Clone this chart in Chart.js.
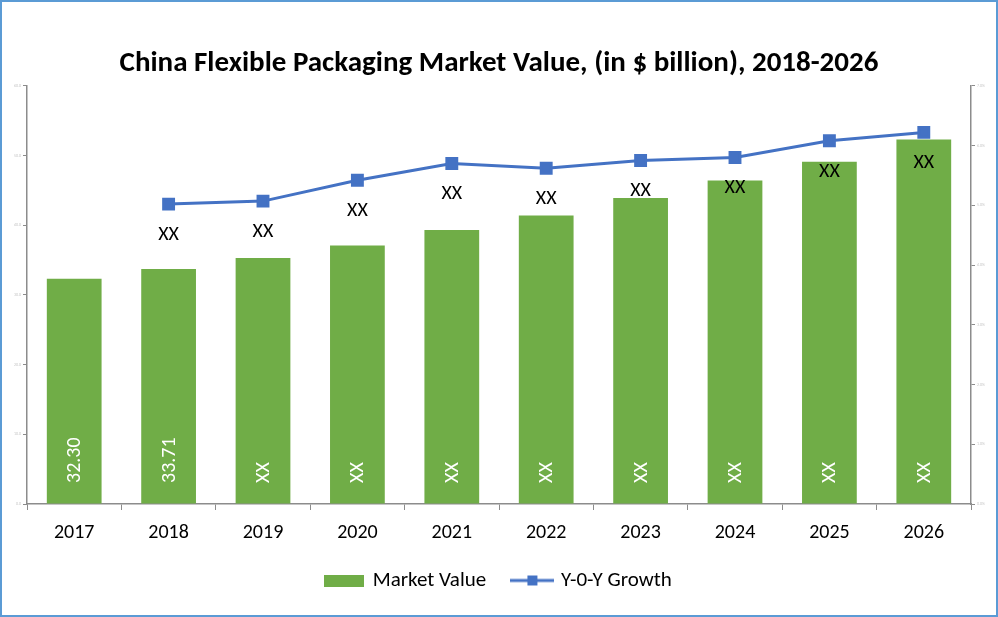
<!DOCTYPE html>
<html><head><meta charset="utf-8">
<script src="https://cdn.jsdelivr.net/npm/chart.js@4.4.0/dist/chart.umd.min.js"></script>
<style>html,body{margin:0;padding:0;background:#fff;}#wrap{width:998px;height:617px;}</style>
</head><body><div id="wrap"><canvas id="c" width="998" height="617"></canvas></div>
<script>
const categories = ['2017','2018','2019','2020','2021','2022','2023','2024','2025','2026'];
const marketValue = [32.30, 33.71, 35.3, 37.1, 39.3, 41.4, 43.9, 46.4, 49.1, 52.3];
const yoyGrowth = [null, 5.02, 5.07, 5.42, 5.70, 5.62, 5.75, 5.80, 6.08, 6.22];
const barLabels = ['32.30','33.71','XX','XX','XX','XX','XX','XX','XX','XX'];
const lineLabels = [null,'XX','XX','XX','XX','XX','XX','XX','XX','XX'];
const legendLabels = ['Market Value', 'Y-0-Y Growth'];
const leftTickMax = 60, leftTickStep = 10;
const rightTickMax = 7, rightTickStep = 1;

const FONT = 'Carlito, Lato, "Open Sans", sans-serif';
const GREEN = '#70AD47', BLUE = '#4472C4', AXIS = '#8c8c8c';

function makeBox() {
  const c = document.createElement('canvas'); c.width = 40; c.height = 12;
  const g = c.getContext('2d'); g.fillStyle = GREEN; g.fillRect(0,0,40,12); return c;
}
function makeLine() {
  const c = document.createElement('canvas'); c.width = 44; c.height = 12;
  const g = c.getContext('2d'); g.strokeStyle = BLUE; g.lineWidth = 3;
  g.beginPath(); g.moveTo(0,6); g.lineTo(44,6); g.stroke();
  g.fillStyle = BLUE; g.fillRect(17,1,10,10); return c;
}

const labelPlugin = {
  id: 'labels',
  afterDatasetsDraw(chart) {
    const ctx = chart.ctx;
    const barMeta = chart.getDatasetMeta(0);
    const base = chart.scales.y.getPixelForValue(0);
    ctx.save();
    ctx.font = '20px ' + FONT;
    ctx.fillStyle = '#ffffff';
    barMeta.data.forEach((el, i) => {
      if (!barLabels[i]) return;
      ctx.save();
      ctx.translate(el.x, base - 21);
      ctx.rotate(-Math.PI / 2);
      ctx.textAlign = 'left'; ctx.textBaseline = 'middle';
      ctx.fillText(barLabels[i], 0, 1);
      ctx.restore();
    });
    const lineMeta = chart.getDatasetMeta(1);
    ctx.fillStyle = '#000000';
    ctx.textAlign = 'center'; ctx.textBaseline = 'middle';
    lineMeta.data.forEach((el, i) => {
      if (!lineLabels[i] || yoyGrowth[i] == null) return;
      ctx.fillText(lineLabels[i], el.x, el.y + 31);
    });
    ctx.restore();
  }
};
const framePlugin = {
  id: 'frame',
  beforeDraw(chart) { const c = chart.ctx; c.save(); c.fillStyle = '#fff'; c.fillRect(0,0,chart.width,chart.height); c.restore(); },
  afterDraw(chart) { const c = chart.ctx; c.save(); c.strokeStyle = '#5B9BD5'; c.lineWidth = 2; c.strokeRect(1,1,chart.width-2,chart.height-2); c.restore(); }
};

new Chart(document.getElementById('c'), {
  data: {
    labels: categories,
    datasets: [
      { type: 'bar', label: legendLabels[0], data: marketValue, backgroundColor: GREEN, yAxisID: 'y',
        categoryPercentage: 1.0, barPercentage: 0.58, order: 2 },
      { type: 'line', label: legendLabels[1], data: yoyGrowth, borderColor: BLUE, backgroundColor: BLUE,
        borderWidth: 3, pointStyle: 'rect', pointRadius: 7, pointHoverRadius: 7, yAxisID: 'y1', order: 1, tension: 0 }
    ]
  },
  options: {
    responsive: false, devicePixelRatio: 1, animation: false,
    layout: { padding: { left: 0, right: 0, top: 0, bottom: 16 } },
    plugins: {
      tooltip: { enabled: false },
      title: { display: true, text: 'China Flexible Packaging Market Value, (in $ billion), 2018-2026',
        color: '#000', font: { family: FONT, size: 29, weight: 'bold' }, padding: { top: 46, bottom: 5 } },
      legend: { position: 'bottom',
        labels: { usePointStyle: true, pointStyleWidth: 36, boxHeight: 12, padding: 14, color: '#000',
          font: { family: FONT, size: 21 },
          generateLabels: () => [
            { text: legendLabels[0] + '   ', pointStyle: makeBox(), datasetIndex: 0, fontColor: '#000', lineWidth: 0, strokeStyle: 'transparent', fillStyle: GREEN },
            { text: legendLabels[1], pointStyle: makeLine(), datasetIndex: 1, fontColor: '#000', lineWidth: 0, strokeStyle: 'transparent', fillStyle: BLUE }
          ] } }
    },
    scales: {
      x: { offset: true,
        grid: { display: true, drawOnChartArea: false, offset: true, tickLength: 6, color: AXIS, lineWidth: 1 },
        border: { color: AXIS, width: 1.5 },
        ticks: { color: '#000', font: { family: FONT, size: 20 }, padding: 11, maxRotation: 0 } },
      y: { position: 'left', min: 0, max: leftTickMax,
        grid: { drawOnChartArea: false, tickLength: 4, color: AXIS },
        border: { color: AXIS, width: 1.5 },
        ticks: { stepSize: leftTickStep, color: '#c8c8c8', font: { family: FONT, size: 4 }, padding: 2,
          callback: v => v.toFixed(1) },
        afterFit: s => { s.width = 27; } },
      y1: { position: 'right', min: 0, max: rightTickMax,
        grid: { drawOnChartArea: false, tickLength: 4, color: AXIS },
        border: { color: AXIS, width: 1.5 },
        ticks: { stepSize: rightTickStep, color: '#c8c8c8', font: { family: FONT, size: 4 }, padding: 2,
          callback: v => v.toFixed(1) + '%' },
        afterFit: s => { s.width = 27; } }
    }
  },
  plugins: [framePlugin, labelPlugin]
});
</script></body></html>
